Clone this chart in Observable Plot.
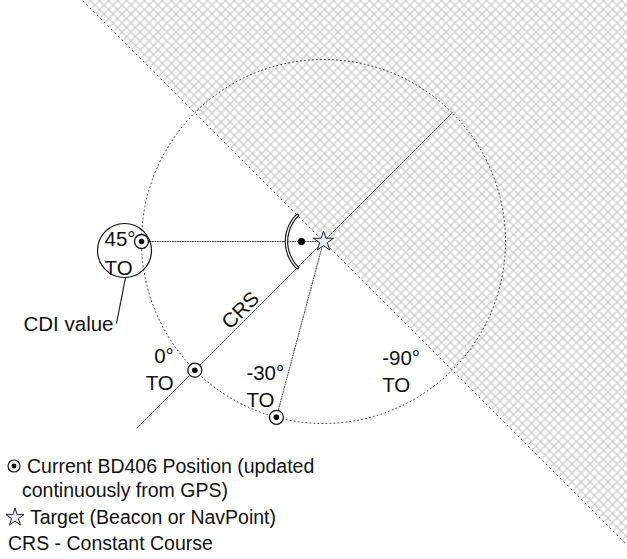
<!DOCTYPE html>
<html><head><meta charset="utf-8">
<script src="https://cdn.jsdelivr.net/npm/d3@7"></script>
<script src="https://cdn.jsdelivr.net/npm/@observablehq/plot@0.6"></script>
<style>
html,body{margin:0;padding:0;background:#fff;}
#wrap{position:relative;width:627px;height:559px;font-family:"Liberation Sans",Arial,Helvetica,sans-serif;color:#111;}
.leg{position:absolute;font-size:19.5px;line-height:24px;white-space:nowrap;}
.leg svg{position:absolute;overflow:visible;}
</style></head><body><div id="wrap"></div>
<script>
// ---- data ----
const crsBearing = 45;                 // constant-course direction (deg, counter-clockwise from east)
const circleRadius = 1;                // CDI reference circle (units)
const cdiValues = [45, 0, -30, -90];   // CDI values shown
const cdiLabels = ["45°\nTO", "0°\nTO", "-30°\nTO", "-90°\nTO"];
const cdiHasMarker = [true, true, true, false];
const crsLabel = "CRS";
const calloutLabel = "CDI value";
const legendTexts = ["Current BD406 Position (updated", "continuously from GPS)", "Target (Beacon or NavPoint)", "CRS - Constant Course"];

// ---- layout (pixels) ----
const W = 627, H = 559, K = 182, SX = 323, SY = 241;
const rad = d => d * Math.PI / 180;
const angleOf = v => crsBearing + 180 - v;
const polar = (r, a) => ({x: r * Math.cos(rad(a)), y: r * Math.sin(rad(a))});

const cdi = cdiValues.map((v, i) => ({value: v, label: cdiLabels[i], marker: cdiHasMarker[i], ...polar(circleRadius, angleOf(v))}));
const markers = cdi.filter(d => d.marker);
const star = [{x: 0, y: 0}];

// hatch half-plane beyond target
const L = 5;
const n = polar(1, crsBearing), u = polar(1, crsBearing - 90);
const hatchPoly = [
  {x: -L*u.x, y: -L*u.y}, {x: L*u.x, y: L*u.y},
  {x: L*u.x + L*n.x, y: L*u.y + L*n.y}, {x: -L*u.x + L*n.x, y: -L*u.y + L*n.y}
];
const hatchEdge = hatchPoly.slice(0, 2);

const circlePts = d3.range(0, 361, 1).map(a => polar(circleRadius, a));
const crsLine = [polar(-1.45 * circleRadius, crsBearing), polar(circleRadius, crsBearing)];
const rays = cdi.filter(d => d.marker && d.value !== 0).map(d => [{x: 0, y: 0}, {x: d.x, y: d.y}]);
const m45 = cdi.find(d => d.value === 45);
const arcPts = d3.range(-45, 46, 1).map(a => polar(37 / K, angleOf(45) + a));
const nearDot = [polar(22 / K, angleOf(45))];
const crsText = [{...polar(-0.59, crsBearing), text: crsLabel}];

const labelLayout = {
  "45":  {dx: -37, dy: 10, anchor: "start", lh: 1.4},
  "0":   {dx: -21, dy: -2, anchor: "end",   lh: 1.3},
  "-30": {dx: -30, dy: -32, anchor: "start", lh: 1.32},
  "-90": {dx: -70, dy: 0,  anchor: "start", lh: 1.28}
};
const FS = 20.5;

const marks = [
  Plot.line(hatchPoly, {x: "x", y: "y", fill: "url(#hatch)", stroke: "none", clip: "frame"}),
  Plot.line(hatchEdge, {x: "x", y: "y", stroke: "#555", strokeWidth: 1, strokeDasharray: "1,4", clip: "frame"}),
  Plot.line(circlePts, {x: "x", y: "y", stroke: "#444", strokeWidth: 1, strokeDasharray: "1,3"}),
  Plot.line(crsLine, {x: "x", y: "y", stroke: "#333", strokeWidth: 0.9, strokeDasharray: "1.5,1.3"}),
  ...rays.map(r => Plot.line(r, {x: "x", y: "y", stroke: "#333", strokeWidth: 0.9, strokeDasharray: "1.2,1.3"})),
  Plot.line(arcPts, {x: "x", y: "y", stroke: "#222", strokeWidth: 3.6}),
  Plot.line(arcPts, {x: "x", y: "y", stroke: "#fff", strokeWidth: 1.2}),
  Plot.dot(nearDot, {x: "x", y: "y", r: 3.6, fill: "#000", stroke: "none"}),
  // callout bubble for the 45° value
  Plot.dot([m45], {x: "x", y: "y", dx: -17, dy: 9, r: 27, fill: "none", stroke: "#111", strokeWidth: 1.2}),
  Plot.link([m45], {x1: d => d.x + (-16) / K, y1: d => d.y - 36 / K, x2: d => d.x - 25 / K, y2: d => d.y - 82 / K, stroke: "#111", strokeWidth: 1.1}),
  Plot.text([m45], {x: "x", y: "y", text: () => calloutLabel, dx: -28, dy: 83, textAnchor: "end", fontSize: FS, fill: "#111"}),
  // markers
  Plot.dot(markers, {x: "x", y: "y", r: 7, fill: "#fff", stroke: "#111", strokeWidth: 1.3}),
  Plot.dot(markers, {x: "x", y: "y", r: 2.8, fill: "#000", stroke: "none"}),
  Plot.dot(star, {x: "x", y: "y", symbol: "star", r: 6.3, fill: "#e6eef8", stroke: "#222", strokeWidth: 1}),
  ...cdi.map(d => {
    const o = labelLayout[String(d.value)];
    return Plot.text([d], {x: "x", y: "y", text: "label", dx: o.dx, dy: o.dy, textAnchor: o.anchor, lineAnchor: "middle", lineHeight: o.lh, fontSize: FS, fill: "#111"});
  }),
  Plot.text(crsText, {x: "x", y: "y", text: "text", rotate: -45, dx: -7, dy: -7, fontSize: FS, fill: "#111"})
];

const plot = Plot.plot({
  width: W, height: H, margin: 0,
  x: {domain: [-SX / K, (W - SX) / K], axis: null},
  y: {domain: [-(H - SY) / K, SY / K], axis: null},
  style: {fontFamily: '"Liberation Sans", Arial, Helvetica, sans-serif', background: "transparent", overflow: "visible"},
  marks
});

const svg = d3.select(plot);
const defs = svg.insert("defs", ":first-child");
const pat = defs.append("pattern").attr("id", "hatch").attr("patternUnits", "userSpaceOnUse").attr("width", 9).attr("height", 9);
pat.append("path").attr("d", "M0,0L9,9M9,0L0,9").attr("stroke", "#c2c2c2").attr("stroke-width", 1.1).attr("fill", "none");

const wrap = document.getElementById("wrap");
wrap.appendChild(plot);

// legend (below the diagram, overlaid on the SVG's lower-left)
function row(top, left, text) {
  const d = document.createElement("div");
  d.className = "leg";
  d.style.top = (top - 12) + "px";
  d.style.left = left + "px";
  d.textContent = text;
  wrap.appendChild(d);
  return d;
}
function icon(cx, cy, kind) {
  const s = d3.select(wrap).append("svg").attr("width", 20).attr("height", 20)
    .style("position", "absolute").style("left", (cx - 10) + "px").style("top", (cy - 10) + "px");
  if (kind === "pos") {
    s.append("circle").attr("cx", 10).attr("cy", 10).attr("r", 6).attr("fill", "#fff").attr("stroke", "#111").attr("stroke-width", 1.2);
    s.append("circle").attr("cx", 10).attr("cy", 10).attr("r", 2.4).attr("fill", "#000");
  } else {
    s.append("path").attr("transform", "translate(10,10.5)").attr("d", d3.symbol(d3.symbolStar, 100)())
      .attr("fill", "#e6eef8").attr("stroke", "#222").attr("stroke-width", 1);
  }
}
icon(14, 466, "pos");
row(466, 27, legendTexts[0]);
row(490, 22, legendTexts[1]);
icon(15, 517, "star");
row(517, 30, legendTexts[2]);
row(543, 8, legendTexts[3]);
</script></body></html>
